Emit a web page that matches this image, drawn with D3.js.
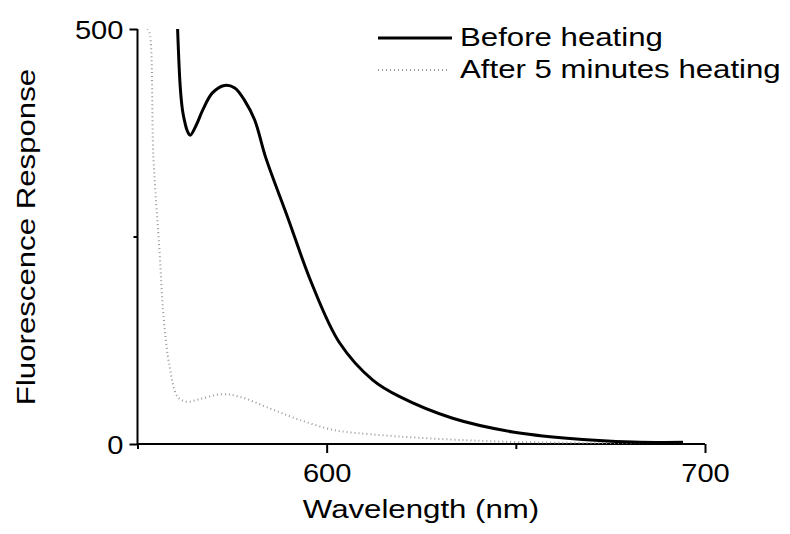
<!DOCTYPE html>
<html>
<head>
<meta charset="utf-8">
<script src="https://cdn.jsdelivr.net/npm/d3@7"></script>
<style>
  html, body { margin: 0; padding: 0; background: #fff; }
  svg { display: block; }
  text { font-family: "Liberation Sans", Arial, Helvetica, sans-serif; fill: #000; }
</style>
</head>
<body>
<svg id="chart" width="790" height="534"></svg>
<script>
// ---- data ----
const beforeWl  = [560.6, 561.3, 561.9, 562.4, 563.1, 563.9, 565.6, 567.2, 569.8, 573.0, 575.7, 578.3, 581.0, 583.9, 589.7, 596.0, 603.4, 612.2, 619.3, 633.3, 649.2, 663.5, 681.0, 694.2];
const beforeVal = [500, 430, 402, 390, 378, 372, 385, 402, 423, 432, 429, 414, 390, 345, 273, 194, 122, 77, 57, 31, 14.5, 7, 2.4, 2];
const afterWl   = [552.6, 553.2, 554.2, 555.8, 556.9, 558.5, 560.6, 563.0, 566.4, 572.2, 577.0, 584.9, 592.9, 601.6, 605.3, 619.3, 637.0, 650.3, 672.0, 694.0];
const afterVal  = [500, 495, 346, 234, 153, 93, 57, 51, 54, 60, 57, 43, 29, 17, 14.5, 9, 4.5, 2.4, 1.2, 1];
const xMajorTicks = [600, 700];
const xMinorTicks = [550, 650];
const yMajorTicks = [0, 500];
const yMinorTicks = [250];
const seriesNames = ["Before heating", "After 5 minutes heating"];
const xTitle = "Wavelength (nm)";
const yTitle = "Fluorescence Response";

// ---- layout ----
const svg = d3.select("#chart");
const x = d3.scaleLinear().domain([550, 700]).range([137.5, 705]);
const y = d3.scaleLinear().domain([0, 500]).range([444, 29]);
const FS = 26, SX = 1.2, SXN = 1.12;

svg.append("defs").append("clipPath").attr("id", "plot")
  .append("rect").attr("x", x(550)).attr("y", y(500)).attr("width", x(700) - x(550)).attr("height", y(0) - y(500));

// axes
const xAxisMajor = d3.axisBottom(x).tickValues(xMajorTicks).tickSize(9).tickPadding(2).tickFormat(d3.format("d"));
const xAxisMinor = d3.axisBottom(x).tickValues(xMinorTicks).tickSize(5).tickFormat("");
const yAxisMajor = d3.axisLeft(y).tickValues(yMajorTicks).tickSize(8).tickPadding(2).tickFormat(d3.format("d"));
const yAxisMinor = d3.axisLeft(y).tickValues(yMinorTicks).tickSize(4).tickFormat("");

function styleAxis(g) {
  g.selectAll(".domain").attr("stroke", "#000").attr("stroke-width", 2);
  g.selectAll(".tick line").attr("stroke", "#000").attr("stroke-width", 2);
  g.selectAll("text").attr("font-size", FS).attr("font-family", "Liberation Sans, Arial, sans-serif").attr("fill", "#000");
}

const gx = svg.append("g").attr("transform", `translate(0,${y(0)})`).call(xAxisMajor).call(styleAxis);
gx.selectAll(".domain").attr("d", `M${x(550)},0H${x(700)}`);
gx.selectAll(".tick text").attr("dy", null).attr("y", 0)
  .attr("transform", `translate(0,38) scale(${SXN},1)`);
const gxm = svg.append("g").attr("transform", `translate(0,${y(0)})`).call(xAxisMinor).call(styleAxis);
gxm.selectAll(".domain").remove();

const gy = svg.append("g").attr("transform", `translate(${x(550)},0)`).call(yAxisMajor).call(styleAxis);
gy.selectAll(".domain").attr("d", `M0,${y(500)}V${y(0)}`);
gy.selectAll(".tick text").attr("x", 0).attr("dy", "0.36em")
  .attr("transform", `translate(-14,0) scale(${SXN},1)`);
const gym = svg.append("g").attr("transform", `translate(${x(550)},0)`).call(yAxisMinor).call(styleAxis);
gym.selectAll(".domain").remove();

// lines
const plot = svg.append("g").attr("clip-path", "url(#plot)");
const line = d3.line().x(d => x(d[0])).y(d => y(d[1])).curve(d3.curveCatmullRom.alpha(0.5));
const beforeData = beforeWl.map((w, i) => [w, beforeVal[i]]);
const afterData = afterWl.map((w, i) => [w, afterVal[i]]);

plot.append("path").datum(afterData).attr("d", line)
  .attr("fill", "none").attr("stroke", "#999").attr("stroke-width", 2).attr("stroke-dasharray", "1,3");
plot.append("path").datum(beforeData).attr("d", line)
  .attr("fill", "none").attr("stroke", "#000").attr("stroke-width", 3).attr("stroke-linejoin", "round");

// legend
const legend = svg.append("g");
legend.append("line").attr("x1", 378).attr("x2", 452).attr("y1", 38).attr("y2", 38)
  .attr("stroke", "#000").attr("stroke-width", 3);
legend.append("line").attr("x1", 378).attr("x2", 450).attr("y1", 70).attr("y2", 70)
  .attr("stroke", "#999").attr("stroke-width", 2).attr("stroke-dasharray", "1,3");
legend.append("g").attr("transform", `translate(460,46) scale(${SX},1)`)
  .append("text").attr("font-size", FS).text(seriesNames[0]);
legend.append("g").attr("transform", `translate(460,78) scale(${SX},1)`)
  .append("text").attr("font-size", FS).text(seriesNames[1]);

// titles
svg.append("g").attr("transform", `translate(421,518) scale(${SX},1)`)
  .append("text").attr("font-size", FS).attr("text-anchor", "middle").text(xTitle);
svg.append("g").attr("transform", `translate(35,237) rotate(-90) scale(${SX},1)`)
  .append("text").attr("font-size", FS).attr("text-anchor", "middle").text(yTitle);
</script>
</body>
</html>
